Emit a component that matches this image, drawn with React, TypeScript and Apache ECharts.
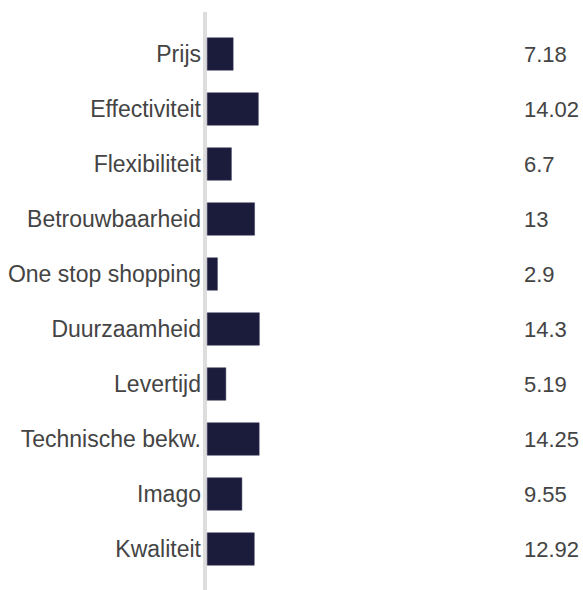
import React, { useEffect, useRef } from "react";
import * as echarts from "echarts";

const categories = [
  "Prijs",
  "Effectiviteit",
  "Flexibiliteit",
  "Betrouwbaarheid",
  "One stop shopping",
  "Duurzaamheid",
  "Levertijd",
  "Technische bekw.",
  "Imago",
  "Kwaliteit",
];
const values = [7.18, 14.02, 6.7, 13, 2.9, 14.3, 5.19, 14.25, 9.55, 12.92];
const valueLabels = ["7.18", "14.02", "6.7", "13", "2.9", "14.3", "5.19", "14.25", "9.55", "12.92"];

export default function App() {
  const ref = useRef<HTMLDivElement>(null);
  useEffect(() => {
    if (!ref.current) return;
    const chart = echarts.init(ref.current, undefined, { renderer: "svg" });
    chart.setOption({
      animation: false,
      backgroundColor: "#ffffff",
      grid: { left: 207, right: 8, top: 26.5, bottom: 13.5, containLabel: false },
      xAxis: {
        type: "value",
        min: 0,
        max: 100,
        show: false,
      },
      yAxis: [
        {
          type: "category",
          data: categories,
          inverse: true,
          axisLine: { show: false },
          axisTick: { show: false },
          axisLabel: {
            margin: 6,
            color: "#444444",
            fontSize: 23,
            fontFamily: "Liberation Sans, Arial, sans-serif",
          },
        },
        {
          type: "category",
          data: valueLabels,
          inverse: true,
          position: "right",
          offset: -51,
          axisLine: { show: false },
          axisTick: { show: false },
          axisLabel: {
            margin: 0,
            align: "left",
            color: "#444444",
            fontSize: 22,
            fontFamily: "Liberation Sans, Arial, sans-serif",
          },
        },
      ],
      graphic: [
        {
          type: "rect",
          left: 203,
          top: 12,
          shape: { width: 4, height: 578 },
          style: { fill: "#dddddd" },
          z: 0,
        },
      ],
      series: [
        {
          type: "bar",
          data: values,
          yAxisIndex: 0,
          barCategoryGap: "40%",
          itemStyle: { color: "#1b1b3b", borderColor: "#3a3a58", borderWidth: 0.5 },
          z: 2,
        },
      ],
    });
    return () => chart.dispose();
  }, []);
  return <div ref={ref} style={{ width: 583, height: 590, position: "absolute", left: 0, top: 0 }} />;
}
